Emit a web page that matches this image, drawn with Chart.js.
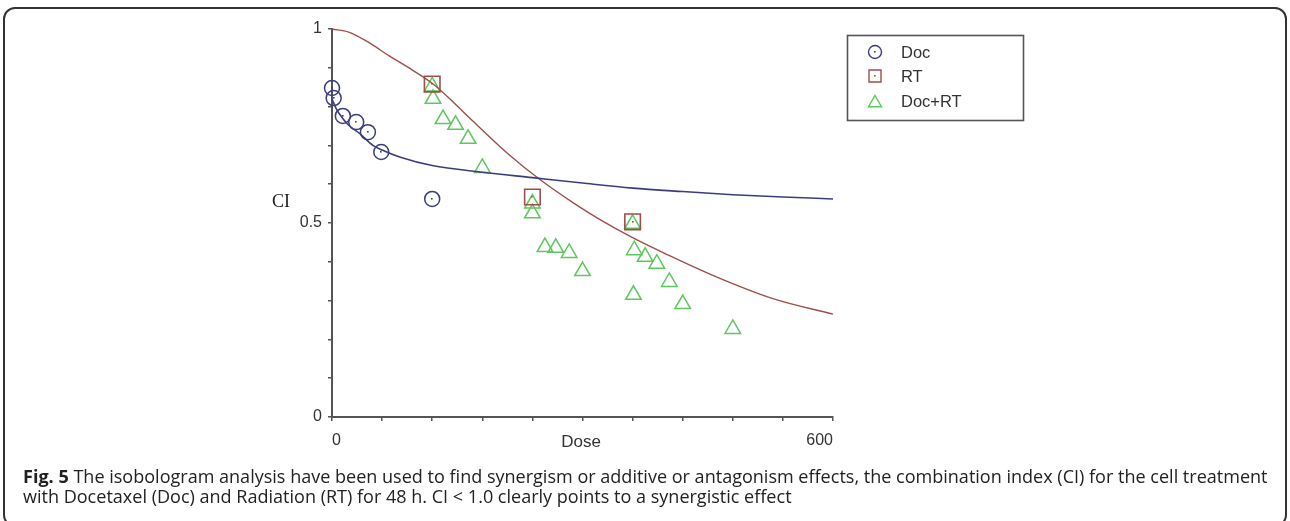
<!DOCTYPE html>
<html>
<head>
<meta charset="utf-8">
<script src="https://cdn.jsdelivr.net/npm/chart.js@4/dist/chart.umd.min.js"></script>
<style>
  html, body { margin: 0; padding: 0; background: #fff; }
  body { width: 1290px; height: 521px; position: relative; overflow: hidden; }
  #card { position: absolute; left: 3px; top: 7px; width: 1280px; height: 516px; border: 2px solid #333; border-radius: 12px; box-sizing: content-box; }
  #wrap { position: absolute; left: 0; top: 0; width: 1290px; height: 521px; }
  #ci { position: absolute; left: 272px; top: 191px; font-family: "Liberation Serif", serif; font-size: 18px; color: #222; }
  #dose { position: absolute; left: 481px; width: 200px; text-align: center; top: 432px; font-family: "Liberation Sans", Arial, sans-serif; font-size: 17px; color: #333; }
  #caption { position: absolute; left: 23px; top: 466px; font-family: "Open Sans", sans-serif; font-size: 15.5px; line-height: 20px; color: #222; white-space: nowrap; }
  #caption b { font-weight: 700; }
</style>
</head>
<body>
<div id="card"></div>
<div id="wrap"><canvas id="c" width="1290" height="521"></canvas></div>
<div id="ci">CI</div>
<div id="dose">Dose</div>
<div id="caption"><span id="l1"><b>Fig. 5</b> The isobologram analysis have been used to find synergism or additive or antagonism effects, the combination index (CI) for the cell treatment</span><br><span id="l2">with Docetaxel (Doc) and Radiation (RT) for 48 h. CI &lt; 1.0 clearly points to a synergistic effect</span></div>
<script>
// ---- data ----
const docDose = [0, 2, 13, 29, 43, 59, 120];
const docCI   = [0.848, 0.822, 0.776, 0.760, 0.734, 0.683, 0.562];

const rtDose = [120, 240, 360];
const rtCI   = [0.858, 0.567, 0.503];

const comboDose = [120, 121, 133, 148, 163, 180, 240, 240, 255, 268, 284, 300, 360, 361, 362, 375, 389, 404, 420, 480];
const comboCI   = [0.852, 0.820, 0.768, 0.753, 0.717, 0.642, 0.550, 0.525, 0.438, 0.436, 0.423, 0.376, 0.498, 0.315, 0.430, 0.413, 0.395, 0.348, 0.291, 0.227];

const docCurveDose = [0, 5, 12, 20, 33, 49, 60, 81, 120, 180, 240, 300, 360, 420, 480, 540, 600];
const docCurveCI   = [0.82, 0.795, 0.772, 0.752, 0.731, 0.700, 0.688, 0.670, 0.648, 0.631, 0.617, 0.603, 0.590, 0.581, 0.573, 0.567, 0.562];

const rtCurveDose = [0, 20, 42, 69, 95, 120, 145, 169, 210, 249, 289, 320, 360, 400, 456, 528, 600];
const rtCurveCI   = [1.0, 0.992, 0.968, 0.93, 0.896, 0.86, 0.812, 0.762, 0.68, 0.612, 0.552, 0.51, 0.462, 0.42, 0.365, 0.305, 0.265];

const yTickLabels = { 0: '0', 0.5: '0.5', 1: '1' };
const xTickLabels = { 0: '0', 600: '600' };
const legendLabels = ['Doc', 'RT', 'Doc+RT'];

// ---- styles ----
const navy = '#3b3e7e';
const brick = '#9e4f49';
const green = '#5fc75f';

const pts = (xs, ys) => xs.map((x, i) => ({ x, y: ys[i] }));

const dotPlugin = {
  id: 'centerDots',
  afterDatasetsDraw(chart) {
    const ctx = chart.ctx;
    [2, 3].forEach(di => {
      const meta = chart.getDatasetMeta(di);
      const col = chart.data.datasets[di].borderColor;
      ctx.save();
      ctx.fillStyle = col;
      meta.data.forEach(p => { ctx.fillRect(Math.round(p.x) - 1, Math.round(p.y) - 1, 1.6, 1.6); });
      ctx.restore();
    });
  }
};

const legendPlugin = {
  id: 'boxLegend',
  afterDraw(chart) {
    const ctx = chart.ctx;
    ctx.save();
    ctx.strokeStyle = '#555';
    ctx.lineWidth = 1.6;
    ctx.strokeRect(847.5, 35.5, 176, 85);
    const items = [
      { style: 'circle', color: navy, r: 6.5, dot: true },
      { style: 'rect', color: brick, r: 8.5, dot: true },
      { style: 'triangle', color: green, r: 7.5, dot: false }
    ];
    const rows = [52, 76, 101];
    items.forEach((it, i) => {
      ctx.strokeStyle = it.color;
      ctx.fillStyle = 'rgba(0,0,0,0)';
      ctx.lineWidth = 1.4;
      const yy = it.style === 'triangle' ? rows[i] + 2 : rows[i];
      Chart.helpers.drawPoint(ctx, { pointStyle: it.style, radius: it.r, rotation: 0, borderWidth: 1.4 }, 875, yy);
      if (it.dot) { ctx.fillStyle = it.color; ctx.fillRect(874, rows[i] - 1, 1.6, 1.6); }
      ctx.fillStyle = '#333';
      ctx.font = '16.5px "Liberation Sans", Arial, sans-serif';
      ctx.textBaseline = 'middle';
      ctx.fillText(legendLabels[i], 901, rows[i] + 1);
    });
    ctx.restore();
  }
};

new Chart(document.getElementById('c'), {
  type: 'scatter',
  data: {
    datasets: [
      { label: 'Doc fit', data: pts(docCurveDose, docCurveCI), showLine: true, borderColor: navy, borderWidth: 1.6, pointRadius: 0, tension: 0.4, cubicInterpolationMode: 'monotone', fill: false, clip: false },
      { label: 'RT fit', data: pts(rtCurveDose, rtCurveCI), showLine: true, borderColor: brick, borderWidth: 1.4, pointRadius: 0, tension: 0.4, cubicInterpolationMode: 'monotone', fill: false, clip: false },
      { label: legendLabels[0], data: pts(docDose, docCI), pointStyle: 'circle', pointRadius: 7.5, borderColor: navy, backgroundColor: 'rgba(0,0,0,0)', pointBorderWidth: 1.5, clip: false },
      { label: legendLabels[1], data: pts(rtDose, rtCI), pointStyle: 'rect', pointRadius: 11, borderColor: brick, backgroundColor: 'rgba(0,0,0,0)', pointBorderWidth: 1.6, clip: false },
      { label: legendLabels[2], data: pts(comboDose, comboCI), pointStyle: 'triangle', pointRadius: 9, borderColor: green, backgroundColor: 'rgba(0,0,0,0)', pointBorderWidth: 1.5, clip: false }
    ]
  },
  options: {
    responsive: false,
    animation: false,
    events: [],
    layout: { padding: { left: 0, top: 29, right: 457, bottom: 0 } },
    plugins: { legend: { display: false }, tooltip: { enabled: false } },
    scales: {
      x: {
        type: 'linear', min: 0, max: 600,
        border: { display: true, color: '#555', width: 2 },
        grid: { drawOnChartArea: false, drawTicks: true, tickLength: 4, color: '#555', lineWidth: 1.5 },
        ticks: {
          stepSize: 60, autoSkip: false, maxRotation: 0, align: 'inner', padding: 10,
          color: '#333', font: { family: '"Liberation Sans", Arial, sans-serif', size: 16 },
          callback: v => (xTickLabels[v] !== undefined ? xTickLabels[v] : '')
        },
        afterFit: s => { s.height = 104; }
      },
      y: {
        type: 'linear', min: 0, max: 1,
        border: { display: true, color: '#555', width: 2 },
        grid: { drawOnChartArea: false, drawTicks: true, tickLength: 4, color: '#555', lineWidth: 1.5 },
        ticks: {
          stepSize: 0.1, autoSkip: false, padding: 6,
          color: '#333', font: { family: '"Liberation Sans", Arial, sans-serif', size: 16 },
          callback: v => { const k = Math.round(v * 10) / 10; return yTickLabels[k] !== undefined ? yTickLabels[k] : ''; }
        },
        afterFit: s => { s.width = 332; }
      }
    }
  },
  plugins: [dotPlugin, legendPlugin]
});

// fit caption line width to the reference (first line spans ~1245px)
(function () {
  const l1 = document.getElementById('l1');
  const cap = document.getElementById('caption');
  const w = l1.getBoundingClientRect().width;
  if (w > 0) {
    const fs = 15.5 * 1245 / w;
    cap.style.fontSize = fs.toFixed(2) + 'px';
  }
})();
</script>
</body>
</html>
